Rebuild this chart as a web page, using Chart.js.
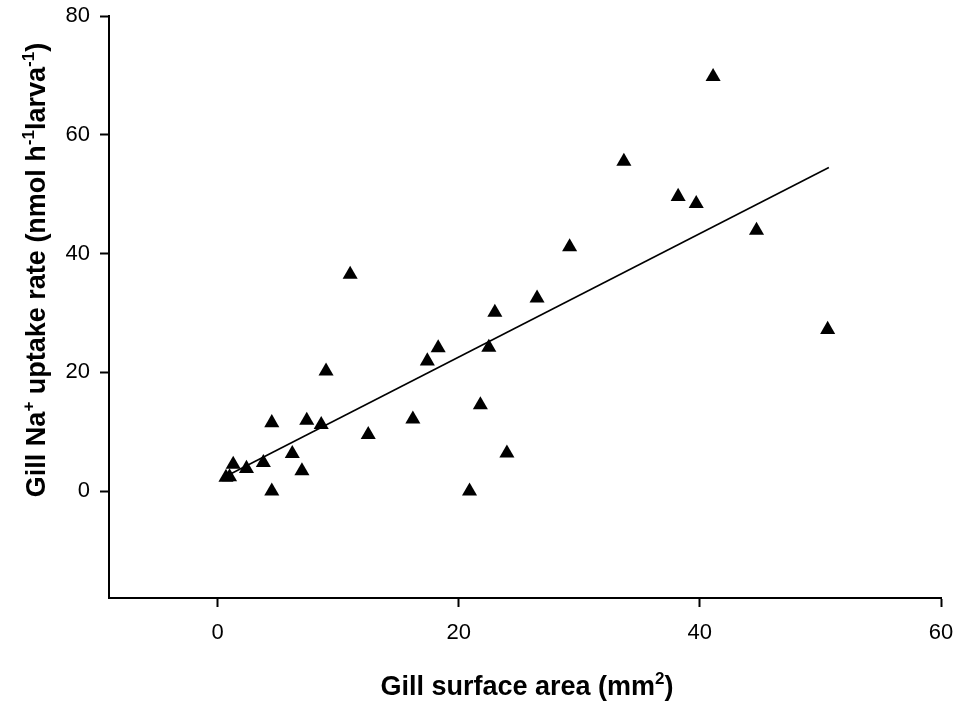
<!DOCTYPE html>
<html>
<head>
<meta charset="utf-8">
<script src="https://cdn.jsdelivr.net/npm/chart.js@4/dist/chart.umd.min.js"></script>
<style>
	html, body { margin: 0; padding: 0; background: #fff; }
	#chart { display: block; }
</style>
</head>
<body>
<canvas id="chart" width="959" height="705"></canvas>
<script>
// gill surface area (mm2) vs Na+ uptake, one entry per larva
const areaX = [0.7, 1.0, 1.3, 2.4, 3.8, 4.5, 4.5, 6.2, 7.0, 7.4, 8.6, 9.0, 11.0, 12.5,
	16.2, 17.4, 18.3, 20.9, 21.8, 22.5, 23.0, 24.0, 26.5, 29.2, 33.7, 38.2, 39.7, 41.1, 44.7, 50.6]
const uptakeY = [2.3, 2.4, 4.5, 3.8, 4.8, 11.5, 0.0, 6.3, 3.4, 11.9, 11.2, 20.2, 36.5, 9.5,
	12.1, 21.9, 24.1, 0.0, 14.5, 24.2, 30.1, 6.4, 32.5, 41.1, 55.5, 49.6, 48.4, 69.8, 43.9, 27.2]

// regression line end points
const fitX = [0.5, 50.7]
const fitY = [2.3, 54.5]

const xTicks = [0, 20, 40, 60]
const yTicks = [0, 20, 40, 60, 80]

// axis titles as [text, superscript?] pieces
const xTitle = [['Gill surface area (mm', false], ['2', true], [')', false]]
const yTitle = [['Gill Na', false], ['+', true], [' uptake rate (nmol h', false], ['-1', true], ['larva', false], ['-1', true], [')', false]]

const FONT = '"Liberation Sans", Arial, Helvetica, sans-serif'
const mainFont = 'bold 27px ' + FONT
const supFont = 'bold 17px ' + FONT

function richWidth(ctx, parts) {
	let w = 0
	parts.forEach(p => {
		ctx.font = p[1] ? supFont : mainFont
		w += ctx.measureText(p[0]).width
	})
	return w
}

function drawRich(ctx, parts, x, y) {
	parts.forEach(p => {
		ctx.font = p[1] ? supFont : mainFont
		ctx.fillText(p[0], x, p[1] ? y - 11 : y)
		x += ctx.measureText(p[0]).width
	})
}

const axisTitles = {
	id: 'axisTitles',
	afterDraw(chart) {
		const ctx = chart.ctx
		const area = chart.chartArea
		ctx.save()
		ctx.fillStyle = '#000'
		ctx.textAlign = 'left'
		ctx.textBaseline = 'alphabetic'
		let w = richWidth(ctx, xTitle)
		drawRich(ctx, xTitle, (area.left + area.right) / 2 - w / 2 + 2, 695)

		w = richWidth(ctx, yTitle)
		ctx.translate(45, 270)
		ctx.rotate(-Math.PI / 2)
		drawRich(ctx, yTitle, -w / 2, 0)
		ctx.restore()
	}
}

function fixedTicks(values) {
	return function(scale) {
		scale.ticks = values.map(v => ({ value: v }))
	}
}

const points = areaX.map((x, i) => ({ x: x, y: uptakeY[i] }))
const line = fitX.map((x, i) => ({ x: x, y: fitY[i] }))

new Chart(document.getElementById('chart'), {
	type: 'scatter',
	data: {
		datasets: [{
			label: 'Uptake',
			data: points,
			pointStyle: 'triangle',
			pointRadius: 8.7,
			pointHoverRadius: 8.7,
			backgroundColor: '#000',
			borderColor: '#000',
			borderWidth: 0
		}, {
			label: 'Fit',
			data: line,
			showLine: true,
			pointRadius: 0,
			borderColor: '#000',
			borderWidth: 1.6,
			fill: false
		}]
	},
	options: {
		responsive: false,
		animation: false,
		devicePixelRatio: 1,
		layout: {
			padding: { top: 16, right: 18, left: 0, bottom: 0 }
		},
		plugins: {
			legend: { display: false },
			tooltip: { enabled: false }
		},
		scales: {
			x: {
				type: 'linear',
				min: -9,
				max: 60,
				afterBuildTicks: fixedTicks(xTicks),
				afterFit: function(scale) {
					scale.height = 107
					scale.paddingLeft = 0
					scale.paddingRight = 0
				},
				grid: {
					drawOnChartArea: false,
					drawTicks: true,
					tickLength: 9,
					tickWidth: 2,
					tickColor: '#000'
				},
				border: { display: true, color: '#000', width: 2 },
				ticks: {
					color: '#000',
					font: { family: FONT, size: 22 },
					padding: 13,
					maxRotation: 0
				}
			},
			y: {
				type: 'linear',
				min: -18,
				max: 80,
				afterBuildTicks: fixedTicks(yTicks),
				afterFit: function(scale) {
					scale.width = 109
					scale.paddingTop = 0
					scale.paddingBottom = 0
				},
				grid: {
					drawOnChartArea: false,
					drawTicks: true,
					tickLength: 9,
					tickWidth: 2,
					tickColor: '#000'
				},
				border: { display: true, color: '#000', width: 2 },
				ticks: {
					color: '#000',
					font: { family: FONT, size: 22 },
					padding: 10
				}
			}
		}
	},
	plugins: [axisTitles]
})
</script>
</body>
</html>
